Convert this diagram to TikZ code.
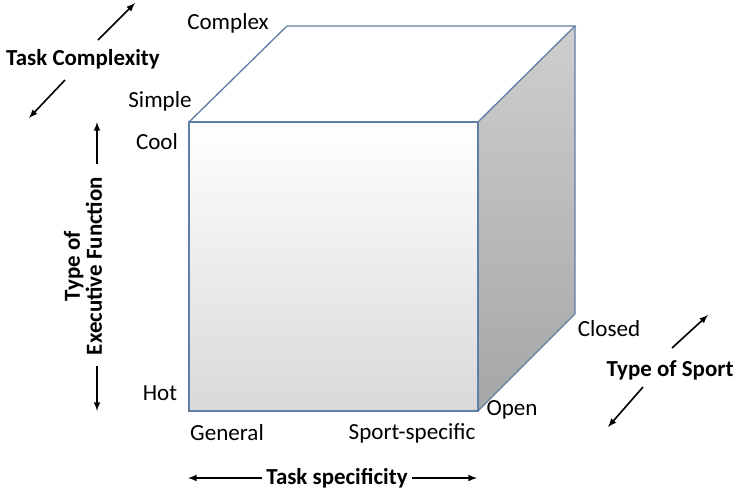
\documentclass[tikz,border=0pt]{standalone}
\usepackage{fontspec}
\setmainfont{Carlito}
\usetikzlibrary{positioning}
\definecolor{edgeblue}{RGB}{96,126,166}

\begin{document}
\begin{tikzpicture}[x=0.75pt, y=-0.75pt,
    font=\fontsize{17.3}{16}\selectfont,
    axislabel/.style={font=\fontsize{17.2}{16.5}\selectfont\bfseries},
    dirarrow/.style={-latex, line width=1.2pt},
    cubeedge/.style={draw=edgeblue, line width=1pt}]
    \useasboundingbox (0,0) rectangle (738,494);
    % cube corners
    \coordinate (ftl) at (189,122);
    \coordinate (ftr) at (478,122);
    \coordinate (fbr) at (478,411);
    \coordinate (fbl) at (189,411);
    \coordinate (btl) at (287,26);
    \coordinate (btr) at (575,26);
    \coordinate (bbr) at (575,314);
    \shade[top color=white, bottom color=black!15] (ftl) rectangle (fbr);
    \shade[top color=black!19, bottom color=black!35] (ftr) -- (btr) -- (bbr) -- (fbr) -- cycle;
    \fill[white] (ftl) -- (btl) -- (btr) -- (ftr) -- cycle;
    \draw[cubeedge] (ftl) rectangle (fbr);
    \draw[cubeedge] (ftl) -- (btl) -- (btr) -- (ftr);
    \draw[cubeedge] (btr) -- (bbr) -- (fbr);
    % end labels
    \node (complex) at (228,23) {Complex};
    \node (simple) at (160,101) {Simple};
    \node (cool) at (157,142) {Cool};
    \node (hot) at (160,393) {Hot};
    \node (general) at (227,433) {General};
    \node (sportspec) at (412,433) {Sport-specific};
    \node (open) at (512,410) {Open};
    \node (closed) at (609,329) {Closed};
    % axis labels
    \node[axislabel] (taskcomplex) at (83,59) {Task Complexity};
    \node[axislabel, rotate=90, align=center] (execfunc) at (83,266) {Type of\\Executive Function};
    \node[axislabel] (taskspec) at (337,478) {Task specificity};
    \node[axislabel] (sporttype) at (670,370) {Type of Sport};
    % direction arrows
    \coordinate (tcup) at (135,3);
    \coordinate (tcdown) at (29,118);
    \coordinate (efup) at (97,122);
    \coordinate (efdown) at (97,411);
    \coordinate (tsleft) at (188,478);
    \coordinate (tsright) at (477,478);
    \coordinate (stup) at (708,315);
    \coordinate (stdown) at (608,427);
    \draw[dirarrow] (98,40) -- (tcup);
    \draw[dirarrow] (65,80) -- (tcdown);
    \draw[dirarrow] (97,164) -- (efup);
    \draw[dirarrow] (97,366) -- (efdown);
    \draw[dirarrow] (taskspec.west) -- (tsleft);
    \draw[dirarrow] (taskspec.east) -- (tsright);
    \draw[dirarrow] (672,348) -- (stup);
    \draw[dirarrow] (643,387) -- (stdown);
\end{tikzpicture}
\end{document}
